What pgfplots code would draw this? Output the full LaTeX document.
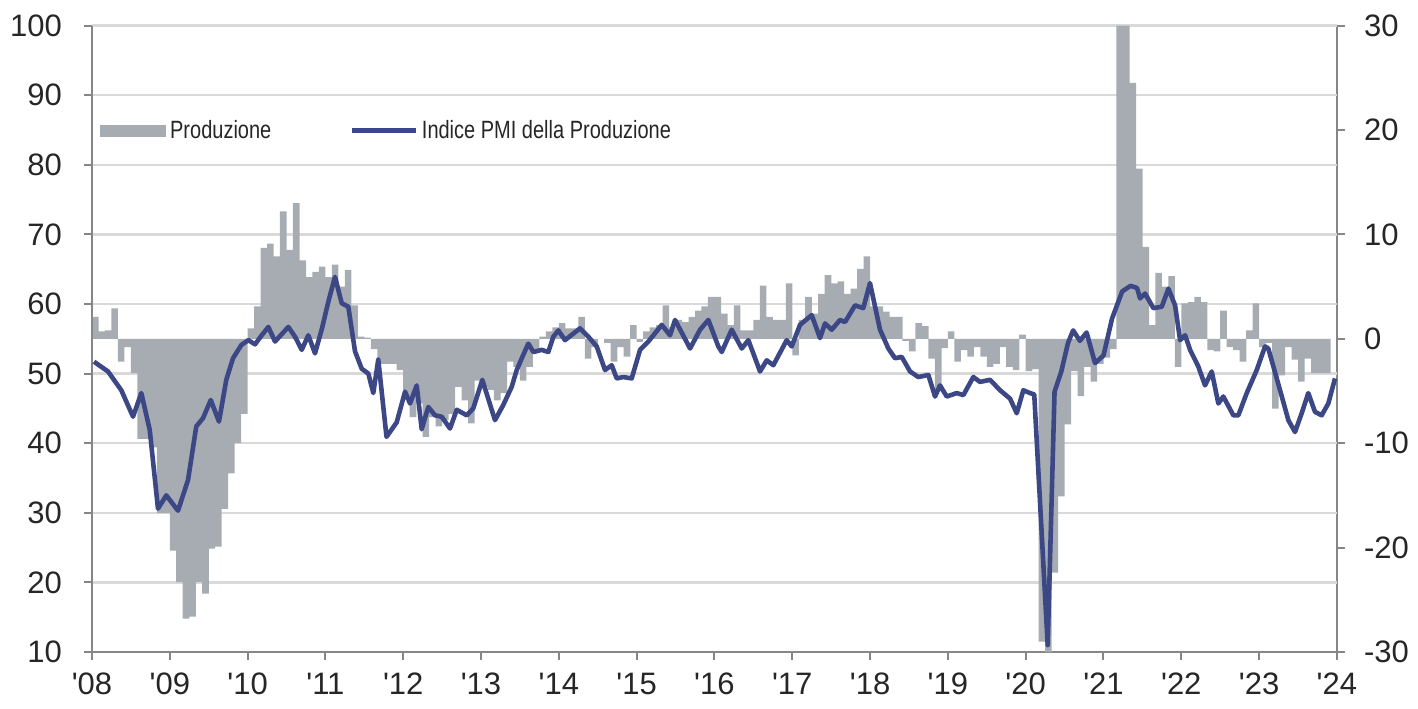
\documentclass[border=0pt]{standalone}
\usepackage{fontspec}
\usepackage{pgfplots}
\usepackage{pgfplotstable}
\pgfplotsset{compat=1.18}
\newfontfamily\lsans{Liberation Sans}
\newfontfamily\lnarrow{Liberation Sans}[FakeStretch=0.8]
\definecolor{barcol}{RGB}{166,172,178}
\definecolor{linecol}{RGB}{60,71,133}
\definecolor{gridcol}{RGB}{217,217,217}
\definecolor{axiscol}{RGB}{134,134,134}
\definecolor{labcol}{RGB}{38,38,38}

% Produzione, y/y % change (right axis), month index i = 0 (Jan 2008) ... 191
\pgfplotstableread[row sep=\\]{
i v\\
0 2.1\\ 1 0.7\\ 2 0.8\\ 3 2.9\\ 4 -2.2\\ 5 -0.8\\ 6 -3.3\\ 7 -9.6\\ 8 -9.6\\ 9 -10.4\\ 10 -16.7\\ 11 -16.7\\
12 -20.3\\ 13 -23.3\\ 14 -26.8\\ 15 -26.6\\ 16 -23.3\\ 17 -24.4\\ 18 -20.1\\ 19 -19.9\\ 20 -16.3\\ 21 -12.9\\ 22 -10.0\\ 23 -7.2\\
24 1.0\\ 25 3.1\\ 26 8.7\\ 27 9.1\\ 28 7.9\\ 29 12.2\\ 30 8.5\\ 31 13.0\\ 32 7.5\\ 33 5.9\\ 34 6.4\\ 35 6.9\\
36 5.9\\ 37 7.1\\ 38 5.0\\ 39 6.6\\ 40 3.2\\ 41 0.2\\ 42 0.1\\ 43 -1.0\\ 44 -2.4\\ 45 -2.4\\ 46 -2.4\\ 47 -3.0\\
48 -5.5\\ 49 -7.5\\ 50 -6.2\\ 51 -9.4\\ 52 -7.5\\ 53 -8.4\\ 54 -7.8\\ 55 -7.2\\ 56 -4.6\\ 57 -5.9\\ 58 -8.1\\ 59 -4.0\\
60 -4.6\\ 61 -4.9\\ 62 -5.9\\ 63 -5.2\\ 64 -2.2\\ 65 -2.7\\ 66 -4.0\\ 67 -2.7\\ 68 -1.0\\ 69 0.2\\ 70 0.7\\ 71 1.1\\
72 1.5\\ 73 1.0\\ 74 1.0\\ 75 2.1\\ 76 -1.9\\ 77 -0.8\\ 78 0.0\\ 79 -0.4\\ 80 -2.2\\ 81 -0.8\\ 82 -1.7\\ 83 1.3\\
84 -0.3\\ 85 0.7\\ 86 1.1\\ 87 1.3\\ 88 3.2\\ 89 1.1\\ 90 1.8\\ 91 1.6\\ 92 2.1\\ 93 2.7\\ 94 3.1\\ 95 4.0\\
96 4.0\\ 97 2.4\\ 98 1.3\\ 99 3.2\\ 100 0.8\\ 101 0.8\\ 102 1.8\\ 103 5.1\\ 104 2.1\\ 105 1.8\\ 106 1.8\\ 107 5.3\\
108 -1.6\\ 109 1.8\\ 110 4.0\\ 111 2.4\\ 112 4.3\\ 113 6.1\\ 114 5.3\\ 115 5.5\\ 116 4.3\\ 117 4.8\\ 118 6.7\\ 119 7.9\\
120 3.1\\ 121 3.1\\ 122 2.6\\ 123 2.1\\ 124 2.1\\ 125 -0.2\\ 126 -1.2\\ 127 1.5\\ 128 1.2\\ 129 -1.9\\ 130 -4.9\\ 131 -0.9\\
132 0.7\\ 133 -2.2\\ 134 -1.1\\ 135 -1.7\\ 136 -0.8\\ 137 -1.7\\ 138 -2.7\\ 139 -2.4\\ 140 -0.8\\ 141 -2.7\\ 142 -3.0\\ 143 0.4\\
144 -3.1\\ 145 -2.9\\ 146 -29.0\\ 147 -30.0\\ 148 -22.4\\ 149 -15.1\\ 150 -8.2\\ 151 -3.1\\ 152 -5.5\\ 153 -2.7\\ 154 -4.1\\ 155 -2.4\\
156 -1.8\\ 157 -1.0\\ 158 30.0\\ 159 30.0\\ 160 24.5\\ 161 16.3\\ 162 8.8\\ 163 1.3\\ 164 6.3\\ 165 5.0\\ 166 6.0\\ 167 -2.7\\
168 3.4\\ 169 3.5\\ 170 4.0\\ 171 3.5\\ 172 -1.1\\ 173 -1.2\\ 174 2.7\\ 175 -0.8\\ 176 -1.1\\ 177 -2.2\\ 178 0.8\\ 179 3.4\\
180 -0.8\\ 181 -0.4\\ 182 -6.7\\ 183 -3.5\\ 184 -0.8\\ 185 -2.0\\ 186 -4.1\\ 187 -1.9\\ 188 -3.3\\ 189 -3.3\\ 190 -3.3\\
}\prodtable

\begin{document}
\begin{tikzpicture}
\pgfplotsset{
  common/.style={
    scale only axis, width=622.5pt, height=313.25pt,
    xmin=2008, xmax=2024,
    tick align=outside, major tick length=4pt,
    axis line style={axiscol, line width=1pt},
    tick style={axiscol, line width=1pt},
    ticklabel style={font=\fontsize{15.5}{18}\selectfont\lsans, text=labcol},
  }
}
% bars on the right-hand scale
\begin{axis}[common,
  ymin=-30, ymax=30,
  axis y line*=right, axis x line*=bottom,
  xtick={2008,2009,...,2024},
  xticklabels={'08,'09,'10,'11,'12,'13,'14,'15,'16,'17,'18,'19,'20,'21,'22,'23,'24},
  xticklabel style={yshift=-3pt},
  ytick={-30,-20,-10,0,10,20,30},
  yticklabels={-30,-20,-10,0,10,20,30},
  yticklabel style={xshift=6pt},
  extra y ticks={-23.3333,-16.6667,-10,-3.3333,3.3333,10,16.6667,23.3333,30},
  extra y tick labels={},
  extra y tick style={grid=major, major tick length=0pt},
  major grid style={gridcol, line width=1.2pt},
]
\addplot[ybar, bar width=0.0845, fill=barcol, draw=none]
  table[x expr={2008+(\thisrow{i}+0.5)/12}, y=v] {\prodtable};
\end{axis}
% PMI line on the left-hand scale
\begin{axis}[common,
  ymin=10, ymax=100,
  axis y line*=left, axis x line=none,
  ytick={10,20,...,100},
  yticklabels={10,20,30,40,50,60,70,80,90,100},
  yticklabel style={xshift=-7.5pt},
  legend columns=2,
  legend style={draw=none, fill=none, inner sep=0pt,
    at={(0.0064,0.8324)}, anchor=west,
    font=\fontsize{12.5}{14}\selectfont\lnarrow, text=labcol,
    /tikz/every even column/.append style={column sep=37pt}},
]
\addlegendimage{legend image code/.code={\fill[barcol] (0pt,-2.75pt) rectangle (32.5pt,2.75pt);}}
\addlegendentry{Produzione}
\addplot[linecol, line width=2.3pt, line join=round,
  legend image code/.code={\draw[linecol, line width=2.3pt] (0pt,0pt) -- (32pt,0pt);}]
coordinates {
(2008.026,51.7) (2008.206,50.3) (2008.377,47.6) (2008.527,43.8) (2008.634,47.2) (2008.742,41.9)
(2008.848,30.6) (2008.955,32.5) (2009.105,30.3) (2009.234,34.7) (2009.340,42.4) (2009.427,43.6)
(2009.526,46.2) (2009.632,43.1) (2009.726,49.1) (2009.812,52.2) (2009.919,54.1)
(2010.009,54.8) (2010.095,54.2) (2010.181,55.5) (2010.266,56.7) (2010.352,54.6) (2010.523,56.7)
(2010.609,55.3) (2010.695,53.4) (2010.780,55.5) (2010.866,52.9) (2010.956,56.5) (2011.041,60.5)
(2011.123,63.9) (2011.209,60.1) (2011.294,59.6) (2011.380,53.2) (2011.466,50.7) (2011.551,50.0)
(2011.615,47.2) (2011.679,52.0) (2011.785,40.9) (2011.916,43.0)
(2012.023,47.4) (2012.087,45.7) (2012.173,48.3) (2012.237,42.0) (2012.322,45.2) (2012.408,44.0)
(2012.494,43.8) (2012.601,42.1) (2012.687,44.8) (2012.816,44.0) (2012.900,45.0) (2013.016,49.1)
(2013.179,43.3) (2013.286,45.5) (2013.394,48.1) (2013.458,50.5) (2013.543,52.7) (2013.607,54.3)
(2013.672,53.1) (2013.779,53.4) (2013.864,53.1) (2013.929,55.3)
(2013.993,56.2) (2014.079,54.8) (2014.272,56.5) (2014.378,55.3) (2014.486,53.9) (2014.593,50.5)
(2014.679,51.2) (2014.743,49.3) (2014.828,49.5) (2014.936,49.3) (2015.043,53.4) (2015.150,54.6)
(2015.322,57.0) (2015.428,55.5) (2015.493,57.7) (2015.686,53.6) (2015.814,56.3) (2015.921,57.7)
(2016.049,53.9) (2016.093,53.1) (2016.221,56.3) (2016.350,53.6) (2016.435,54.8) (2016.585,50.3)
(2016.671,51.9) (2016.756,51.2) (2016.928,54.8) (2016.992,53.9) (2017.099,57.0) (2017.249,58.4)
(2017.356,55.1) (2017.420,57.2) (2017.506,56.3) (2017.613,57.7) (2017.677,57.4) (2017.806,59.8)
(2017.912,59.4) (2017.998,63.0)
(2018.127,56.3) (2018.234,53.6) (2018.320,52.2) (2018.406,52.4) (2018.513,50.3) (2018.619,49.5)
(2018.748,49.8) (2018.834,46.7) (2018.898,48.3) (2018.984,46.7) (2019.113,47.2) (2019.198,46.9)
(2019.326,49.5) (2019.412,48.8) (2019.541,49.1) (2019.670,47.6) (2019.798,46.4) (2019.884,44.3)
(2019.969,47.6)
(2020.055,47.2) (2020.109,47.0) (2020.282,11.0) (2020.370,47.4) (2020.457,50.3) (2020.543,54.4)
(2020.609,56.2) (2020.695,54.7) (2020.782,55.9) (2020.890,51.5) (2020.999,52.6) (2021.109,57.9)
(2021.239,61.8) (2021.347,62.6) (2021.430,62.3) (2021.469,60.8) (2021.533,61.5) (2021.640,59.4)
(2021.748,59.6) (2021.833,62.2) (2021.919,59.8) (2021.983,54.8) (2022.048,55.5) (2022.112,53.4)
(2022.218,51.0) (2022.304,48.3) (2022.390,50.3) (2022.475,45.7) (2022.539,46.7) (2022.668,44.0)
(2022.732,44.0) (2022.840,47.2) (2022.968,50.5) (2023.075,53.9) (2023.117,53.6) (2023.268,47.6)
(2023.375,43.3) (2023.460,41.6) (2023.546,44.3) (2023.631,47.2) (2023.717,44.5) (2023.803,44.0)
(2023.888,45.7) (2023.974,49.3)
};
\addlegendentry{Indice PMI della Produzione}
\end{axis}
\pgfresetboundingbox
\useasboundingbox (-46pt,-28pt) rectangle (663pt,326pt);
\end{tikzpicture}
\end{document}
